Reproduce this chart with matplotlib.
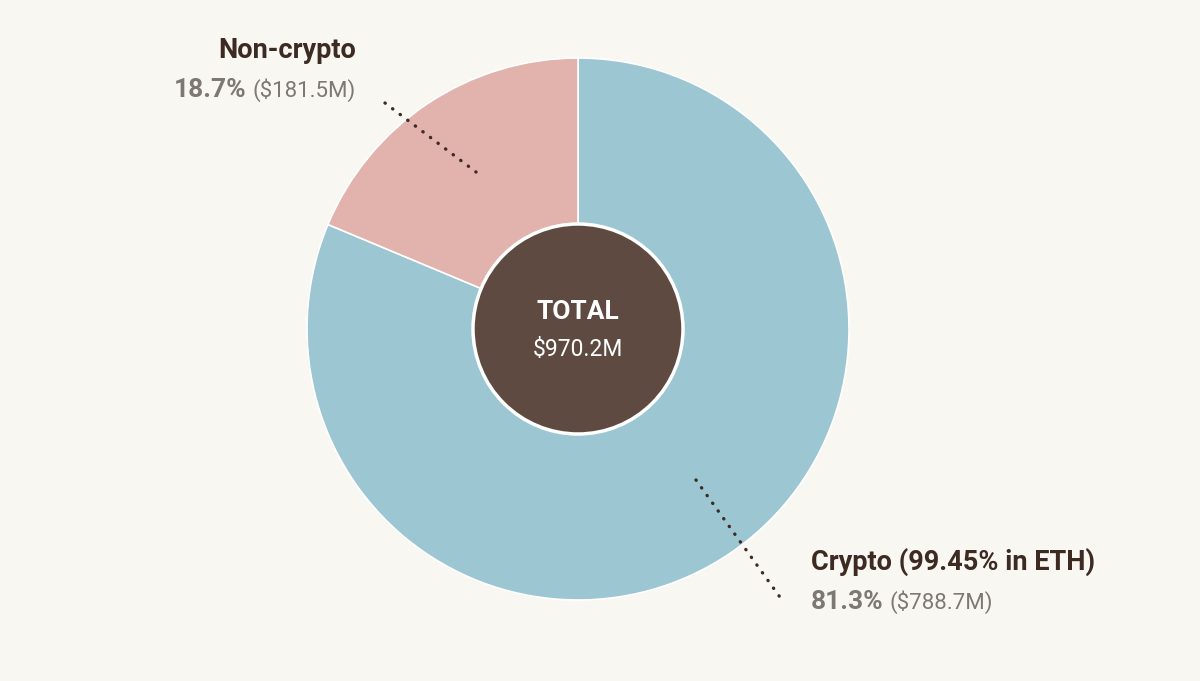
import matplotlib.pyplot as plt
from matplotlib.patches import Circle

plt.rcParams["font.family"] = ["Roboto", "DejaVu Sans"]

# data
labels = ["Crypto (99.45% in ETH)", "Non-crypto"]
shares = [81.3, 18.7]
amounts = ["$788.7M", "$181.5M"]
colors = ["#9dc6d3", "#e2b2ac"]
total_label = "$970.2M"

bg = "#f9f7f2"
dark = "#3d2a22"
grey = "#7d7874"

W, H = 1200, 681
fig = plt.figure(figsize=(12, 6.81), dpi=100, facecolor=bg)
ax = fig.add_axes([0, 0, 1, 1])

cx, cy = 578, H - 329
ax.pie(shares, colors=colors, startangle=90, counterclock=False,
       center=(cx, cy), radius=271, frame=True,
       wedgeprops=dict(edgecolor="white", linewidth=1.2))
ax.set_xlim(0, W)
ax.set_ylim(0, H)
ax.set_aspect("equal")
ax.axis("off")

ax.add_patch(Circle((cx, cy), 105, facecolor="#5e4a40", edgecolor="white",
                    linewidth=2.5, zorder=5))
ax.text(cx, H - 312, "TOTAL", ha="center", va="center", color="white",
        fontsize=19, fontweight="bold", zorder=6)
ax.text(cx, H - 350, total_label, ha="center", va="center", color="white",
        fontsize=16.5, zorder=6)

# leader lines
dots = dict(color=dark, linewidth=2.4, linestyle=(0, (0.1, 2.75)),
            dash_capstyle="round", zorder=7)
ax.plot([385, 476], [H - 103, H - 172], **dots)
ax.plot([696, 782], [H - 480, H - 600], **dots)

fig.canvas.draw()
r = fig.canvas.get_renderer()


def pair(x, y, bold_txt, thin_txt, align):
    # bold percentage followed by the amount in brackets
    if align == "right":
        t2 = ax.text(x, y, thin_txt, ha="right", va="center", color=grey, fontsize=16)
        bb = t2.get_window_extent(r)
        x0 = ax.transData.inverted().transform((bb.x0, 0))[0]
        ax.text(x0 - 6, y, bold_txt, ha="right", va="center", color=grey,
                fontsize=19, fontweight="bold")
    else:
        t1 = ax.text(x, y, bold_txt, ha="left", va="center", color=grey,
                     fontsize=19, fontweight="bold")
        bb = t1.get_window_extent(r)
        x1 = ax.transData.inverted().transform((bb.x1, 0))[0]
        ax.text(x1 + 6, y, thin_txt, ha="left", va="center", color=grey, fontsize=16)


ax.text(356, H - 50, labels[1], ha="right", va="center", color=dark,
        fontsize=19.5, fontweight="bold")
pair(356, H - 90, f"{shares[1]}%", f"({amounts[1]})", "right")

ax.text(811, H - 562, labels[0], ha="left", va="center", color=dark,
        fontsize=19.5, fontweight="bold")
pair(811, H - 602, f"{shares[0]}%", f"({amounts[0]})", "left")

fig.savefig("out.png", dpi=100, facecolor=bg)
